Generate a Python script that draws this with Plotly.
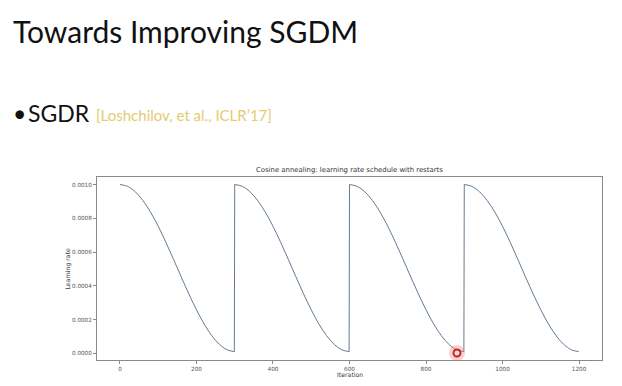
import plotly.graph_objects as go

# ---- data ----
cycle_starts = [0, 300, 600, 900]
t_in_cycle = [0, 20, 40, 60, 80, 100, 120, 140, 160, 180, 200, 220, 240, 260, 280, 299]
lr_in_cycle = [0.001000, 0.000989, 0.000957, 0.000905, 0.000836, 0.000753, 0.000658,
               0.000557, 0.000453, 0.000352, 0.000258, 0.000174, 0.000105, 0.000053,
               0.000021, 0.000010]
x_ticks = [0, 200, 400, 600, 800, 1000, 1200]
y_ticks = [0.0, 0.0002, 0.0004, 0.0006, 0.0008, 0.0010]

LINE = "#647b92"
fig = go.Figure()

for s in cycle_starts:
    fig.add_trace(go.Scatter(
        x=[s + t for t in t_in_cycle], y=lr_in_cycle, mode="lines",
        line=dict(color=LINE, width=1.0, shape="spline", smoothing=1.0),
        showlegend=False, hoverinfo="skip"))

# restart jumps
jx, jy = [], []
for s in cycle_starts[1:]:
    jx += [s - 1, s, None]
    jy += [lr_in_cycle[-1], lr_in_cycle[0], None]
fig.add_trace(go.Scatter(x=jx, y=jy, mode="lines", line=dict(color=LINE, width=1.0),
                         showlegend=False, hoverinfo="skip"))

W, H = 622, 386
x0, x1 = 97 / W, 602 / W
y0, y1 = 1 - 360 / H, 1 - 177 / H

TICKFONT = dict(family="DejaVu Sans", size=5.7, color="#555555")
axis_common = dict(showline=True, linecolor="#8a8a8a", linewidth=1, mirror=True,
                   showgrid=False, zeroline=False, ticks="outside", ticklen=3,
                   tickcolor="#8a8a8a", tickfont=TICKFONT, automargin=False)

fig.update_layout(
    width=W, height=H, margin=dict(l=0, r=0, t=0, b=0),
    paper_bgcolor="white", plot_bgcolor="white",
    xaxis=dict(domain=[x0, x1], range=[-60, 1260], tickvals=x_ticks,
               **axis_common),
    yaxis=dict(domain=[y0, y1], range=[-0.0000395, 0.0010445], tickvals=y_ticks,
               tickformat=".4f",
               **axis_common),
)

LBL = dict(family="DejaVu Sans", size=6.2, color="#3a3a3a")
fig.add_annotation(text="Iteration", xref="paper", yref="paper",
                   x=(x0 + x1) / 2, y=1 - 374 / H, showarrow=False,
                   xanchor="center", yanchor="middle", font=LBL)
fig.add_annotation(text="Learning rate", xref="paper", yref="paper",
                   x=67 / W, y=(y0 + y1) / 2, showarrow=False, textangle=-90,
                   xanchor="center", yanchor="middle", font=LBL)
fig.add_annotation(text="Cosine annealing: learning rate schedule with restarts",
                   xref="paper", yref="paper", x=(x0 + x1) / 2, y=1 - 170 / H,
                   showarrow=False, xanchor="center", yanchor="middle",
                   font=dict(family="DejaVu Sans", size=6.9, color="#333333"))

# slide text
fig.add_annotation(text="Towards Improving SGDM", xref="paper", yref="paper",
                   x=11 / W, y=1 - 31 / H, xanchor="left", yanchor="middle", showarrow=False,
                   font=dict(family="Lato", size=30, color="#111111"))
fig.add_annotation(text="•", xref="paper", yref="paper",
                   x=11 / W, y=1 - 113 / H, xanchor="left", yanchor="middle", showarrow=False,
                   font=dict(family="Lato", size=23, color="#111111"))
fig.add_annotation(text="SGDR", xref="paper", yref="paper",
                   x=26 / W, y=1 - 113 / H, xanchor="left", yanchor="middle", showarrow=False,
                   font=dict(family="Lato", size=23, color="#111111"))
fig.add_annotation(text="[Loshchilov, et al., ICLR’17]", xref="paper", yref="paper",
                   x=94 / W, y=1 - 115 / H, xanchor="left", yanchor="middle", showarrow=False,
                   font=dict(family="Lato", size=15, color="#e3cc72"))

# laser-pointer dot from the screenshot
px, py = 457 / W, 1 - 353 / H
fig.add_shape(type="circle", xref="paper", yref="paper",
              x0=px - 8 / W, x1=px + 8 / W, y0=py - 8 / H, y1=py + 8 / H,
              line=dict(width=0), fillcolor="rgba(240,120,110,0.35)")
fig.add_shape(type="circle", xref="paper", yref="paper",
              x0=px - 3.5 / W, x1=px + 3.5 / W, y0=py - 3.5 / H, y1=py + 3.5 / H,
              line=dict(width=2, color="#c0262a"), fillcolor="rgba(255,220,220,0.9)")

fig.write_html("out.html", config={"displayModeBar": False},
               post_script="document.body.style.margin='0';document.body.style.overflow='hidden';")
